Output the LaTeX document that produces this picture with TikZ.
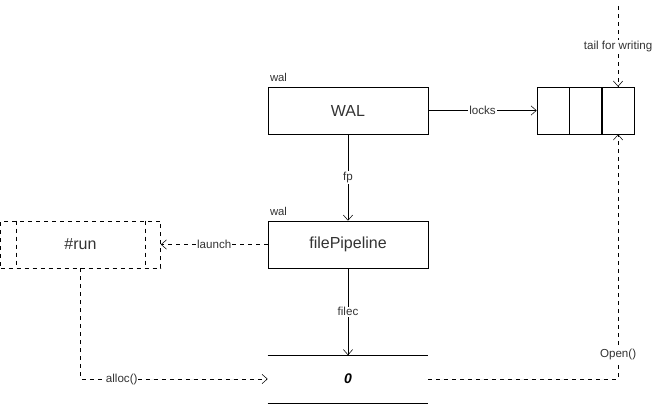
\documentclass[tikz,border=0pt]{standalone}
\usepackage{fontspec}
\setmainfont{Liberation Sans}
\usetikzlibrary{arrows.meta,positioning}
\definecolor{ink}{HTML}{333333}
\tikzset{
  box/.style={draw=black,fill=white,minimum width=120pt,minimum height=35.25pt,inner sep=0pt,
    font=\fontsize{12}{14}\selectfont,text=ink},
  dbox/.style={box,dashed},
  cell/.style={draw=black,minimum width=24pt,minimum height=35.25pt,inner sep=0pt},
  flow/.style={-{Straight Barb[length=4pt,width=7pt]},draw=black},
  dflow/.style={flow,dashed},
  lbl/.style={fill=white,inner sep=0.6pt,font=\fontsize{8.7}{10}\selectfont,text=ink},
  tag/.style={font=\fontsize{8.5}{10}\selectfont,text=ink,inner sep=0pt},
}

\begin{document}
\begin{tikzpicture}[x=0.75pt,y=-0.75pt]
  \useasboundingbox (0,0) rectangle (652,404);
  \node[box] (wal) at (348,110.5) {WAL};
  \node[box] (fp) at (348,244.5) {filePipeline};
  \node[dbox] (run) at (80.5,244.5) {\#run};
  \node[box,draw=none,fill=none,font=\fontsize{10.5}{12}\selectfont\bfseries\itshape,text=black] (store) at (348,379) {0};
  \draw (store.north west) -- (store.north east); \draw (store.south west) -- (store.south east);
  \draw[dashed] ([xshift=12pt]run.north west) -- ([xshift=12pt]run.south west);
  \draw[dashed] ([xshift=-12pt]run.north east) -- ([xshift=-12pt]run.south east);
  % lock array
  \node[cell] (cella) at (553,110.5) {};
  \node[cell,right=0pt of cella] (cellb) {};
  \node[cell,right=0pt of cellb] (cellc) {};
  \coordinate (tailtop) at (cellc.north |- 0,6);
  % tags
  \node[tag,anchor=south west] (waltag) at ([xshift=1.5pt,yshift=4pt]wal.north west) {wal};
  \node[tag,anchor=south west] (fptag) at ([xshift=1.5pt,yshift=4pt]fp.north west) {wal};
  % connectors
  \draw[flow] (wal) -- node[lbl]{locks} (cella);
  \draw[flow] (wal) -- node[lbl]{fp} (fp);
  \draw[flow] (fp) -- node[lbl]{filec} (store);
  \draw[dflow] (fp) -- node[lbl]{launch} (run);
  \draw[dflow] (tailtop) -- node[lbl]{tail for writing} (cellc);
  \draw[dflow] (run.south) |- node[lbl,pos=0.61]{alloc()} (store.west);
  \draw[dflow] (store.east) -| node[lbl,pos=0.55]{Open()} (cellc.south);
\end{tikzpicture}
\end{document}
